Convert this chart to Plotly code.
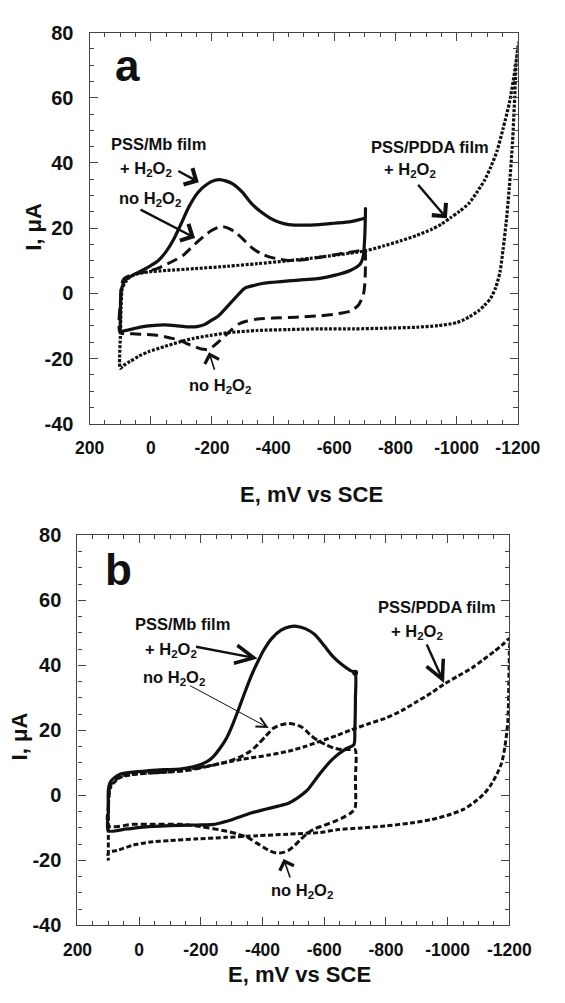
import plotly.graph_objects as go

# ---------------- data ----------------
# Panel a
A_MB_H2O2_E = [100, 99, 95, 83, 60, 27, 0, -24, -50, -75, -100, -125, -155, -186, -210, -225, -245, -268,
               -300, -329, -360, -390, -420, -451, -500, -552, -600, -654, -690, -700, -702, -700, -695,
               -685, -654, -600, -552, -500, -450, -400, -369, -340, -308, -280, -247, -220, -196, -175,
               -151, -120, -80, -44, -3, 30, 58, 100]
A_MB_H2O2_I = [-12, -3, 1.6, 4.1, 5.5, 7.1, 8.5, 10, 12.8, 16.6, 21.5, 26.6, 31, 33.6, 34.7, 34.9, 34.5, 33.6,
               31, 27.6, 25, 23.1, 21.8, 21.1, 20.9, 21.1, 21.5, 22, 22.8, 23.1, 26, 18, 11.6,
               9, 7.1, 5.5, 4.6, 4.2, 3.8, 3.4, 3.1, 2.5, 1.6, -1, -4.4, -7, -8.4, -9.6,
               -10.2, -10.3, -9.9, -9.7, -9.9, -10.3, -10.9, -11.8]

A_MB_NO_E = [100, 99, 96, 88, 60, 17, -20, -44, -75, -105, -130, -156, -180, -196, -220, -237, -258, -278,
             -300, -329, -360, -390, -420, -451, -500, -550, -600, -650, -690, -700, -702, -700, -695, -680,
             -654, -600, -552, -500, -450, -400, -349, -315, -288, -260, -227, -205, -186, -166, -146, -120,
             -95, -60, -24, 20, 58, 100]
A_MB_NO_I = [-12, -2, 2.5, 4.5, 5.8, 6.6, 7.6, 8.6, 10, 11.6, 13.8, 16.1, 18, 19.1, 20.2, 20.4, 19.8, 18.6,
             16.8, 14.1, 12.2, 11.1, 10.5, 10.1, 10.3, 11, 11.8, 12.6, 13.2, 13.5, 10, 3, -0.4, -3.5,
             -5.4, -6.4, -6.9, -7.2, -7.4, -7.6, -7.9, -8.5, -9.4, -11.5, -14.4, -16.2, -17.2, -17.1, -16.4, -15.5,
             -14.4, -13.6, -12.9, -12.6, -12.4, -12]

A_PDDA_E = [100, 99, 97, 93, 80, 68, 40, 7, -50, -146, -250, -349, -450, -552, -650, -705, -760, -817, -870,
            -918, -950, -979, -1010, -1040, -1065, -1091, -1112, -1132, -1152, -1173, -1190, -1203,
            -1195, -1190, -1183, -1172, -1162, -1152, -1142, -1128, -1112, -1090, -1071, -1040, -1000, -940,
            -868, -760, -664, -552, -450, -349, -260, -196, -140, -95, -45, 7, 40, 68, 90, 100]
A_PDDA_I = [-23, -12, -4, 1.6, 3.8, 5.1, 6, 6.6, 7, 7.6, 8.3, 9.1, 10, 11.1, 12.3, 13.1, 14.5, 16.1, 17.8,
            19.6, 21.2, 23.1, 25.2, 27.6, 30.8, 34.6, 38.8, 43.6, 50.5, 58.6, 68, 77,
            70, 60, 46.6, 32, 21.6, 13.5, 6.6, 1.8, -1.4, -3.8, -5.4, -7.3, -9, -9.9,
            -10.4, -10.7, -10.9, -10.9, -11.1, -11.4, -12, -12.9, -13.8, -14.9, -16.3, -17.9, -19.3, -20.9, -22.2, -23]

# Panel b
B_MB_H2O2_E = [100, 100, 100, 95, 90, 75, 60, 20, -31, -80, -132, -175, -202, -225, -242, -262, -283, -303,
               -323, -343, -363, -384, -404, -430, -460, -490, -510, -540, -570, -600, -630, -660, -685, -700,
               -701, -699, -696, -666, -626, -585, -545, -510, -484, -450, -424, -395, -363, -333, -303, -270,
               -242, -190, -132, -31, 40, 100]
B_MB_H2O2_I = [-10.9, -5, 1.6, 3.8, 4.6, 5.8, 6.6, 7.2, 7.6, 7.9, 8.1, 8.8, 9.6, 10.7, 12.1, 14.5, 17.6, 21.8,
               26.7, 31.8, 36.7, 41, 44.7, 48.3, 50.8, 51.9, 52, 51.2, 49.4, 46, 42.5, 40, 38.4, 37.7,
               30, 20, 15.6, 14.1, 11.1, 6.6, 1.6, -1, -2.4, -3.3, -3.9, -4.6, -5.4, -6.4, -7.4, -8.3,
               -8.9, -9.1, -9.2, -9.6, -10.3, -10.9]
B_MB_SWITCH_INDEX = 33  # point where the scan reverses (drawn with a small dot)

B_MB_NO_E = [100, 100, 97, 90, 70, 50, -20, -81, -150, -232, -290, -333, -360, -384, -410, -434, -460, -484,
             -505, -525, -540, -555, -580, -605, -630, -656, -680, -700, -701, -701, -695, -686, -665, -636,
             -600, -565, -545, -525, -505, -484, -464, -444, -424, -404, -380, -353, -320, -283, -200, -132,
             -50, 20, 100]
B_MB_NO_I = [-9.4, -3, 1, 3.6, 5.2, 6.1, 6.8, 7.1, 7.6, 9.1, 10.5, 12.1, 13.6, 15.6, 18.2, 20.6, 21.7, 22.1,
             21.8, 21.1, 20, 18.6, 16.8, 15.6, 14.6, 14.1, 14.1, 14.1, 5, -3.4, -4.6, -5.4, -6.6, -7.9,
             -9.2, -10.4, -11.7, -13.4, -15.3, -16.9, -17.6, -17.7, -17.1, -16, -14.6, -13, -11.9, -11, -9.6, -8.9,
             -8.9, -8.9, -9.4]

B_PDDA_E = [100, 100, 99, 95, 85, 60, 20, -31, -81, -150, -232, -333, -420, -484, -540, -585, -640, -686,
            -746, -797, -850, -898, -945, -988, -1035, -1079, -1115, -1150, -1180, -1200,
            -1200, -1199, -1195, -1185, -1175, -1160, -1140, -1119, -1085, -1049, -1000, -948, -880, -797,
            -720, -646, -585, -484, -384, -282, -182, -100, -31, 20, 70, 100, 100]
B_PDDA_I = [-20, -10, -2, 2, 3.6, 5.6, 6.4, 6.9, 7.1, 7.9, 9.2, 11.1, 12.4, 13.6, 15.1, 16.6, 18.4, 20.1,
            22.1, 23.7, 26, 28.7, 31.4, 34.2, 36.8, 39.2, 41.7, 44.2, 46.5, 48.2,
            44, 38.7, 22.6, 14.6, 10, 6.6, 3.2, 0.6, -2.2, -4.4, -6.1, -7.4, -8.5, -9.4,
            -10, -10.5, -11.4, -11.9, -12.4, -12.9, -13.4, -13.9, -14.4, -15.3, -16.9, -17.5, -20]

X_TICKS = [200, 0, -200, -400, -600, -800, -1000, -1200]
X_TICK_LABELS = ["200", "0", "-200", "-400", "-600", "-800", "-1000", "-1200"]
Y_TICKS = [-40, -20, 0, 20, 40, 60, 80]
Y_TICK_LABELS = ["-40", "-20", "0", "20", "40", "60", "80"]

# ---------------- layout helpers ----------------
W, H = 565, 1003
FONT = "Liberation Sans, Arial, sans-serif"
INK = "#111111"
FRAME = "#444444"


def px(x):
    return x / W


def py(y):
    return 1 - y / H


fig = go.Figure()


def add(xs, ys, xa, ya, dash, width=3.0):
    fig.add_trace(go.Scatter(x=xs, y=ys, xaxis=xa, yaxis=ya, mode="lines",
                             line=dict(color=INK, width=width, dash=dash, shape="spline", smoothing=0.7),
                             showlegend=False, hoverinfo="skip"))


# panel a
add(A_PDDA_E, A_PDDA_I, "x", "y", "3px,1.6px", 3.2)
add(A_MB_NO_E, A_MB_NO_I, "x", "y", "11px,6px", 3.0)
add(A_MB_H2O2_E, A_MB_H2O2_I, "x", "y", "solid", 3.2)
# panel b
add(B_PDDA_E, B_PDDA_I, "x2", "y2", "5px,2.5px", 3.0)
add(B_MB_NO_E, B_MB_NO_I, "x2", "y2", "6px,3px", 3.0)
add(B_MB_H2O2_E, B_MB_H2O2_I, "x2", "y2", "solid", 3.2)
fig.add_trace(go.Scatter(x=[B_MB_H2O2_E[B_MB_SWITCH_INDEX]], y=[B_MB_H2O2_I[B_MB_SWITCH_INDEX]],
                         xaxis="x2", yaxis="y2", mode="markers",
                         marker=dict(color=INK, size=6), showlegend=False, hoverinfo="skip"))

axis_common = dict(
    showline=True, mirror="ticks", linecolor=FRAME, linewidth=1.4,
    ticks="inside", ticklen=8, tickwidth=1.3, tickcolor=FRAME,
    showgrid=False, zeroline=False, tickmode="array",
)

xa = dict(axis_common, range=[200, -1200], tickvals=X_TICKS, ticktext=X_TICK_LABELS,
          tickfont=dict(family=FONT, size=17.5, color=INK, weight="bold"),
          minor=dict(dtick=50, tick0=0, ticklen=4, ticks="inside", tickcolor=FRAME, tickwidth=1.2),
          ticklabelstandoff=8)
ya = dict(axis_common, range=[-40, 80], tickvals=Y_TICKS, ticktext=Y_TICK_LABELS,
          tickfont=dict(family=FONT, size=20, color=INK, weight="bold"),
          minor=dict(dtick=5, tick0=0, ticklen=4.5, ticks="inside", tickcolor=FRAME, tickwidth=1.2),
          ticklabelstandoff=11)

fig.update_layout(
    width=W, height=H, margin=dict(l=0, r=0, t=0, b=0),
    paper_bgcolor="white", plot_bgcolor="white",
    xaxis=dict(xa, domain=[px(80), px(539)], anchor="y"),
    yaxis=dict(ya, domain=[py(422), py(22)], anchor="x"),
    xaxis2=dict(xa, domain=[px(67), px(530)], anchor="y2"),
    yaxis2=dict(ya, domain=[py(935), py(536)], anchor="x2"),
)

ann = []


def text(x, y, s, size=16.5):
    ann.append(dict(xref="paper", yref="paper", x=px(x), y=py(y), text=s, showarrow=False,
                    xanchor="center", yanchor="middle",
                    font=dict(family=FONT, size=size, color=INK, weight="bold")))


def arrow(hx, hy, tx, ty, width=2.4, head=4, size=1.5):
    ann.append(dict(xref="paper", yref="paper", x=px(hx), y=py(hy), ax=tx - hx, ay=ty - hy,
                    axref="pixel", ayref="pixel", text="", showarrow=True,
                    arrowhead=head, arrowsize=size, arrowwidth=width, arrowcolor=INK))


H2O2 = "H<sub>2</sub>O<sub>2</sub>"

# panel a labels
text(121, 56, "a", 44)
text(154, 136, "PSS/Mb film")
text(140, 162, "+ " + H2O2)
arrow(197, 175, 175, 163)
text(145, 192, "no " + H2O2)
arrow(193, 232, 137, 203)
text(220, 383, "no " + H2O2)
arrow(208, 349, 214, 368, width=1.6, size=1.8)
text(445, 139, "PSS/PDDA film")
text(423, 163, "+ " + H2O2)
arrow(463, 212, 433, 177)
text(318, 494, "E, mV vs SCE", 22)
ann.append(dict(xref="paper", yref="paper", x=px(19), y=py(221), text="I, μA", showarrow=False,
                textangle=-90, xanchor="center", yanchor="middle",
                font=dict(family=FONT, size=22, color=INK, weight="bold")))

# panel b labels
text(111, 571, "b", 44)
text(180, 627, "PSS/Mb film")
text(167, 653, "+ " + H2O2)
arrow(260, 662, 197, 650, head=5)
text(171, 682, "no " + H2O2)
arrow(272, 733, 192, 690, width=1.0, size=2.0, head=5)
text(308, 900, "no " + H2O2)
arrow(288, 867, 295, 887, width=1.6, size=1.8)
text(452, 609, "PSS/PDDA film")
text(431, 635, "+ " + H2O2)
arrow(460, 687, 442, 647, head=5)
text(305, 985, "E, mV vs SCE", 22)
ann.append(dict(xref="paper", yref="paper", x=px(5), y=py(742), text="I, μA", showarrow=False,
                textangle=-90, xanchor="center", yanchor="middle",
                font=dict(family=FONT, size=22, color=INK, weight="bold")))

fig.update_layout(annotations=ann)
fig.write_html("out.html")
